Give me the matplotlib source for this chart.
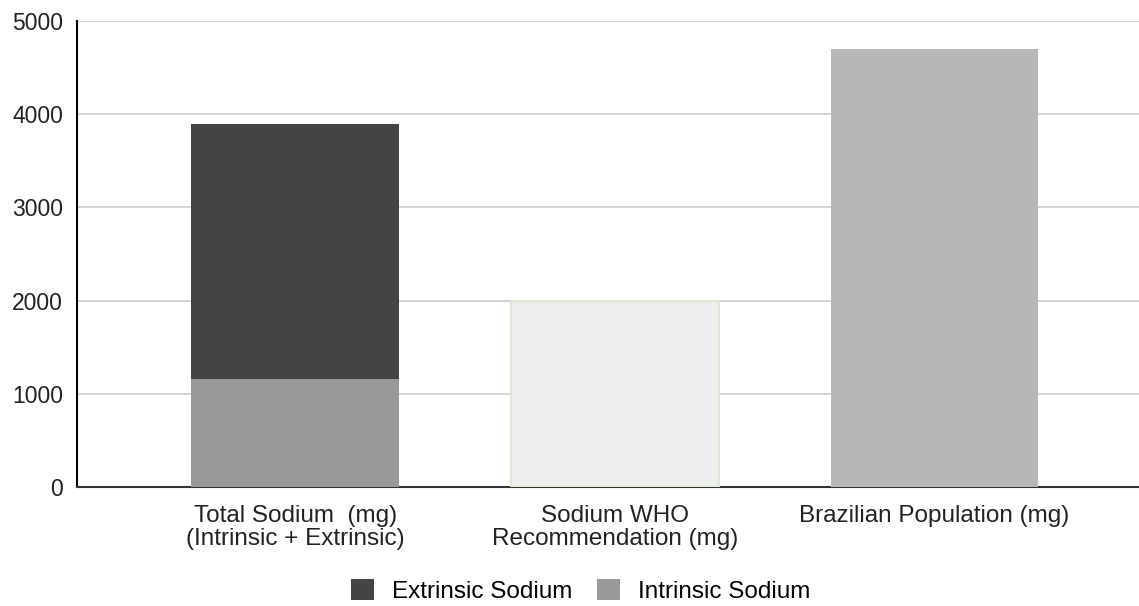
import matplotlib
matplotlib.use('Agg')
import matplotlib.pyplot as plt
from matplotlib.patches import Patch

plt.rcParams['font.family'] = ['Liberation Sans', 'DejaVu Sans']

# Sodium content per category (mg)
categories = ['Total Sodium  (mg)\n(Intrinsic + Extrinsic)',
              'Sodium WHO\nRecommendation (mg)',
              'Brazilian Population (mg)']
intrinsic = [1160, 0, 0]
extrinsic = [2740, 0, 0]
reference_values = [0, 2000, 4700]

x = list(range(len(categories)))
width = 0.65

fig = plt.figure(figsize=(11.39, 6.06), dpi=100)
ax = fig.add_axes([77 / 1139, 1 - 487 / 606, (1139 - 77) / 1139, (487 - 21) / 606])

ax.bar(x[0], intrinsic[0], width=width, color='#999999', zorder=3)
ax.bar(x[0], extrinsic[0], width=width, bottom=intrinsic[0], color='#444444', zorder=3)
ax.bar(x[1], reference_values[1], width=width, color='#eeeeee',
       edgecolor='#d9ead3', linewidth=1.5, zorder=3)
ax.bar(x[2], reference_values[2], width=width, color='#b7b7b7', zorder=3)

ax.set_xlim(-0.683, 2.64)
ax.set_ylim(0, 5000)
ax.set_yticks([0, 1000, 2000, 3000, 4000, 5000])
ax.set_xticks(x)
ax.set_xticklabels(categories, fontsize=17.5, color='#222222', va='top', linespacing=1.03)
ax.tick_params(axis='y', labelsize=16.5, colors='#222222', length=0, pad=10)
ax.tick_params(axis='x', length=0, pad=13)
ax.grid(axis='y', color='#cccccc', linewidth=1.2, zorder=0)

for side in ['top', 'right']:
    ax.spines[side].set_visible(False)
ax.spines['left'].set_color('black')
ax.spines['left'].set_linewidth(1.5)
ax.spines['bottom'].set_color('#333333')
ax.spines['bottom'].set_linewidth(1.5)

handles = [Patch(facecolor='#444444', label='Extrinsic Sodium'),
           Patch(facecolor='#999999', label='Intrinsic Sodium')]
fig.legend(handles=handles, loc='center', bbox_to_anchor=(581 / 1139, 1 - 591 / 606),
           ncol=2, frameon=False, fontsize=17.5, handlelength=0.95, handleheight=0.95,
           columnspacing=1.0, handletextpad=0.75, borderpad=0, borderaxespad=0)

fig.savefig('out.png', dpi=100)
